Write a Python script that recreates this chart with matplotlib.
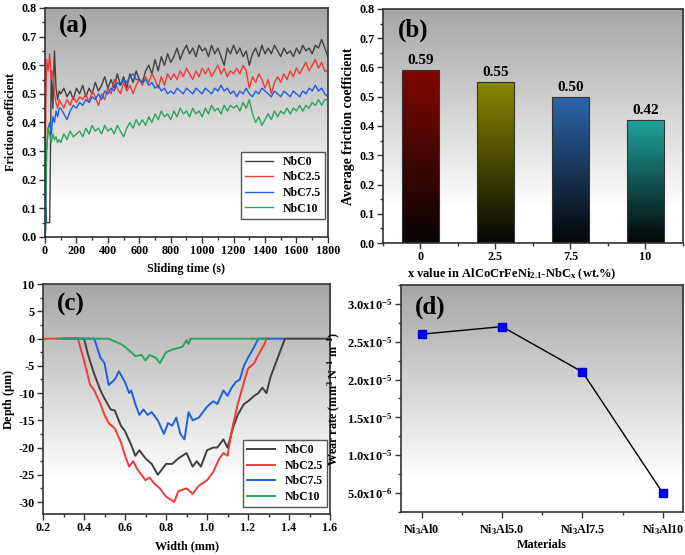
import numpy as np
import matplotlib
matplotlib.use("Agg")
import matplotlib.pyplot as plt
from matplotlib.colors import LinearSegmentedColormap
from matplotlib.ticker import MultipleLocator, AutoMinorLocator, FuncFormatter

plt.rcParams["font.family"] = ["Liberation Serif", "DejaVu Serif"]
plt.rcParams["font.weight"] = "bold"
plt.rcParams["axes.labelweight"] = "bold"
plt.rcParams["axes.unicode_minus"] = False
plt.rcParams["mathtext.fontset"] = "custom"
plt.rcParams["mathtext.rm"] = "Liberation Serif:bold"
plt.rcParams["mathtext.it"] = "Liberation Serif:bold"
plt.rcParams["mathtext.bf"] = "Liberation Serif:bold"
plt.rcParams["mathtext.default"] = "regular"

# ---------------- (a) friction coefficient vs sliding time ----------------
series_names = ["NbC0", "NbC2.5", "NbC7.5", "NbC10"]
series_colors = ["#404040", "#f23a3a", "#1f5fe0", "#2ea35c"]

time_head = [0, 5, 10, 20, 30, 40, 50, 60, 70, 80, 90]
time_body = list(range(100, 1801, 20))
time_s = time_head + time_body

mu_nbc0 = [0.00, 0.10, 0.05, 0.05, 0.05, 0.58, 0.45, 0.65, 0.52, 0.48, 0.51,
           0.50, 0.52, 0.49, 0.51, 0.48, 0.52,
           0.50, 0.53, 0.49, 0.52, 0.50, 0.54, 0.51, 0.53, 0.56, 0.52,
           0.55, 0.52, 0.57, 0.53, 0.56, 0.52, 0.57, 0.54, 0.58, 0.55,
           0.54, 0.58, 0.60, 0.57, 0.62, 0.58, 0.63, 0.60, 0.64, 0.61,
           0.63, 0.66, 0.62, 0.65, 0.67, 0.64, 0.66, 0.63, 0.67, 0.65,
           0.66, 0.63, 0.67, 0.64, 0.66, 0.63, 0.60, 0.66, 0.64, 0.67,
           0.64, 0.66, 0.63, 0.65, 0.60, 0.64, 0.66, 0.63, 0.67, 0.64,
           0.66, 0.64, 0.67, 0.65, 0.63, 0.66, 0.64, 0.65, 0.63, 0.66,
           0.64, 0.67, 0.65, 0.66, 0.64, 0.67, 0.66, 0.69, 0.66, 0.63]
mu_nbc25 = [0.00, 0.45, 0.62, 0.58, 0.64, 0.55, 0.58, 0.50, 0.47, 0.45, 0.48,
            0.47, 0.45, 0.48, 0.46, 0.49, 0.47,
            0.49, 0.48, 0.50, 0.47, 0.51, 0.49, 0.46, 0.50, 0.48, 0.52,
            0.50, 0.55, 0.52, 0.50, 0.54, 0.51, 0.53, 0.50, 0.53, 0.55,
            0.53, 0.56, 0.54, 0.57, 0.55, 0.52, 0.56, 0.53, 0.57, 0.55,
            0.57, 0.55, 0.58, 0.56, 0.59, 0.57, 0.55, 0.58, 0.56, 0.59,
            0.57, 0.59, 0.56, 0.58, 0.60, 0.57, 0.59, 0.56, 0.58, 0.57,
            0.59, 0.57, 0.60, 0.58, 0.52, 0.56, 0.54, 0.57, 0.55, 0.52,
            0.55, 0.50, 0.54, 0.56, 0.54, 0.57, 0.55, 0.58, 0.56, 0.59,
            0.57, 0.59, 0.61, 0.58, 0.60, 0.62, 0.59, 0.61, 0.58, 0.58]
mu_nbc75 = [0.00, 0.03, 0.30, 0.38, 0.40, 0.36, 0.42, 0.40, 0.44, 0.42, 0.45,
            0.45, 0.43, 0.41, 0.44, 0.46, 0.45,
            0.47, 0.46, 0.48, 0.47, 0.49, 0.48, 0.50, 0.48, 0.51, 0.50,
            0.52, 0.51, 0.54, 0.53, 0.55, 0.54, 0.56, 0.57, 0.55, 0.55,
            0.54, 0.55, 0.53, 0.54, 0.52, 0.53, 0.51, 0.52, 0.50, 0.51,
            0.50, 0.52, 0.51, 0.50, 0.52, 0.51, 0.50, 0.52, 0.51, 0.50,
            0.52, 0.51, 0.50, 0.52, 0.51, 0.53, 0.51, 0.52, 0.50, 0.51,
            0.49, 0.51, 0.50, 0.52, 0.50, 0.49, 0.51, 0.50, 0.52, 0.51,
            0.50, 0.49, 0.51, 0.50, 0.49, 0.51, 0.50, 0.49, 0.51, 0.50,
            0.49, 0.51, 0.50, 0.52, 0.51, 0.53, 0.51, 0.52, 0.50, 0.49]
mu_nbc10 = [0.00, 0.10, 0.30, 0.38, 0.36, 0.33, 0.36, 0.34, 0.35, 0.33, 0.34,
            0.33, 0.36, 0.34, 0.37, 0.35, 0.36,
            0.37, 0.35, 0.38, 0.36, 0.39, 0.37, 0.38, 0.36, 0.39, 0.37,
            0.38, 0.36, 0.39, 0.37, 0.35, 0.38, 0.40, 0.38, 0.41, 0.39,
            0.41, 0.39, 0.42, 0.40, 0.43, 0.41, 0.44, 0.42, 0.43, 0.41,
            0.44, 0.42, 0.45, 0.43, 0.44, 0.42, 0.45, 0.43, 0.44, 0.42,
            0.45, 0.43, 0.46, 0.44, 0.45, 0.43, 0.46, 0.44, 0.46, 0.45,
            0.46, 0.44, 0.47, 0.45, 0.48, 0.43, 0.40, 0.42, 0.39, 0.41,
            0.43, 0.41, 0.44, 0.42, 0.44, 0.43, 0.45, 0.43, 0.45, 0.44,
            0.46, 0.44, 0.46, 0.45, 0.47, 0.46, 0.48, 0.46, 0.48, 0.48]

# ---------------- (b) average friction coefficient ----------------
nbc_content = ["0", "2.5", "7.5", "10"]
avg_friction = [0.59, 0.55, 0.50, 0.42]
bar_colors = ["#820800", "#8a8a00", "#2d66ad", "#1fa39b"]

# ---------------- (c) wear track profiles ----------------
w_nbc0 = [0.30, 0.40, 0.42, 0.45, 0.48, 0.50, 0.53, 0.55, 0.58, 0.60, 0.63, 0.65, 0.67, 0.70,
          0.73, 0.76, 0.78, 0.80, 0.83, 0.86, 0.90, 0.93, 0.95, 0.97, 1.00, 1.03, 1.05, 1.08,
          1.10, 1.13, 1.15, 1.18, 1.20, 1.23, 1.25, 1.27, 1.29, 1.31, 1.33, 1.35, 1.37, 1.38, 1.60]
d_nbc0 = [0.0, 0.0, -3.0, -6.5, -9.5, -11.0, -13.0, -13.2, -16.0, -17.0, -19.5, -21.5, -20.5, -22.0,
          -23.0, -25.0, -24.0, -23.0, -23.0, -22.0, -21.0, -23.5, -22.5, -23.5, -20.5, -20.0, -20.0, -18.5,
          -20.0, -16.0, -14.0, -12.0, -11.5, -10.5, -10.0, -9.0, -10.0, -7.0, -5.0, -3.0, -1.0, 0.0, 0.0]

w_nbc25 = [0.20, 0.37, 0.40, 0.43, 0.45, 0.48, 0.50, 0.52, 0.55, 0.58, 0.60, 0.62, 0.64, 0.66,
           0.68, 0.70, 0.72, 0.74, 0.77, 0.80, 0.82, 0.84, 0.86, 0.90, 0.93, 0.96, 1.00, 1.03,
           1.06, 1.08, 1.10, 1.12, 1.15, 1.18, 1.20, 1.23, 1.25, 1.28, 1.29, 1.30]
d_nbc25 = [0.0, 0.0, -4.0, -8.5, -9.5, -12.0, -14.0, -15.5, -16.5, -19.0, -21.5, -23.5, -22.5, -24.0,
           -25.0, -26.0, -25.5, -26.5, -27.5, -29.0, -29.5, -30.0, -28.0, -27.5, -28.5, -27.0, -26.0, -24.5,
           -22.0, -21.0, -21.5, -17.0, -12.0, -8.0, -5.5, -4.5, -3.0, -1.0, 0.0, 0.0]

w_nbc75 = [0.30, 0.45, 0.48, 0.50, 0.52, 0.55, 0.57, 0.60, 0.62, 0.63, 0.65, 0.67, 0.69, 0.71,
           0.73, 0.76, 0.79, 0.81, 0.83, 0.85, 0.87, 0.89, 0.91, 0.93, 0.96, 1.00, 1.03, 1.05,
           1.08, 1.10, 1.12, 1.14, 1.16, 1.18, 1.20, 1.23, 1.25, 1.37]
d_nbc75 = [0.0, 0.0, -3.5, -4.5, -8.5, -7.5, -6.0, -8.0, -10.0, -9.5, -12.0, -14.0, -13.0, -14.0,
           -13.5, -15.0, -17.5, -15.5, -16.0, -14.5, -17.5, -18.5, -13.5, -15.0, -14.5, -12.5, -11.5, -12.0,
           -9.5, -10.5, -9.0, -8.0, -7.5, -5.0, -3.5, -1.5, 0.0, 0.0]

w_nbc10 = [0.27, 0.52, 0.55, 0.58, 0.60, 0.63, 0.65, 0.68, 0.70, 0.72, 0.75, 0.77, 0.80, 0.83,
           0.85, 0.88, 0.90, 0.91, 0.92, 1.29]
d_nbc10 = [0.0, 0.0, -0.5, -1.0, -1.5, -2.5, -3.2, -3.0, -4.0, -3.0, -3.5, -4.5, -2.5, -2.0,
           -1.8, -1.5, -0.3, -1.0, 0.0, 0.0]

# ---------------- (d) wear rate ----------------
materials = [r"Ni$_3$Al0", r"Ni$_3$Al5.0", r"Ni$_3$Al7.5", r"Ni$_3$Al10"]
wear_rate = [2.6e-5, 2.7e-5, 2.1e-5, 5.0e-6]

bg_cmap = LinearSegmentedColormap.from_list("bg", [(0, "white"), (0.15, "white"), (1, "#a6a6a6")])
grad = np.linspace(0, 1, 256).reshape(-1, 1)
TICK = 8.7
LABEL = 8.7
PANEL = 18


def style_axes(ax):
    ax.imshow(grad, extent=[0, 1, 0, 1], transform=ax.transAxes, origin="lower",
              aspect="auto", cmap=bg_cmap, zorder=0)
    for sp in ax.spines.values():
        sp.set_linewidth(1.2)
        sp.set_color("#333333")
    ax.tick_params(which="both", direction="out", labelsize=TICK, width=1.0, color="#333333", pad=2)
    ax.tick_params(which="major", length=4)
    ax.tick_params(which="minor", length=2)


fig = plt.figure(figsize=(6.85, 5.55), dpi=100)
ax_a = fig.add_axes([0.0657, 0.573, 0.413, 0.4126])
ax_b = fig.add_axes([0.559, 0.562, 0.438, 0.422])
ax_c = fig.add_axes([0.0628, 0.0739, 0.419, 0.414])
ax_d = fig.add_axes([0.585, 0.0775, 0.412, 0.409])

# (a)
style_axes(ax_a)
for name, col, mu in zip(series_names, series_colors,
                         [mu_nbc0, mu_nbc25, mu_nbc75, mu_nbc10]):
    ax_a.plot(time_s, mu, color=col, lw=1.0, label=name, zorder=2)
ax_a.set_xlim(0, 1800)
ax_a.set_ylim(0, 0.8)
ax_a.xaxis.set_major_locator(MultipleLocator(200))
ax_a.xaxis.set_minor_locator(MultipleLocator(100))
ax_a.yaxis.set_major_locator(MultipleLocator(0.1))
ax_a.yaxis.set_minor_locator(MultipleLocator(0.05))
ax_a.set_xlabel("Sliding time (s)", fontsize=LABEL, labelpad=4)
ax_a.set_ylabel("Friction coefficient", fontsize=LABEL, labelpad=3)
ax_a.text(0.05, 0.92, "(a)", transform=ax_a.transAxes, fontsize=PANEL, fontweight="bold", va="center")
ax_a.legend(loc="lower right", bbox_to_anchor=(0.99, 0.08), borderaxespad=0, fontsize=8.5,
            frameon=True, fancybox=False, edgecolor="#555555", framealpha=1, handlelength=2.4,
            labelspacing=0.3, borderpad=0.35)

# (b)
style_axes(ax_b)
xpos = np.arange(len(nbc_content))
bars = ax_b.bar(xpos, avg_friction, width=0.5, fill=False, edgecolor="#333333", lw=0.8, zorder=3)
for bar, col, val in zip(bars, bar_colors, avg_friction):
    x0, y0 = bar.get_x(), bar.get_y()
    cmap = LinearSegmentedColormap.from_list("b", ["#050505", col])
    im = ax_b.imshow(grad, extent=[x0, x0 + bar.get_width(), y0, y0 + bar.get_height()],
                     origin="lower", aspect="auto", cmap=cmap, zorder=2)
    im.set_clip_path(bar)
    ax_b.text(bar.get_x() + bar.get_width() / 2, val + 0.01, f"{val:.2f}",
              ha="center", va="bottom", fontsize=11, fontweight="bold")
ax_b.set_xlim(-0.5, 3.5)
ax_b.set_ylim(0, 0.8)
ax_b.set_xticks(xpos)
ax_b.set_xticklabels(nbc_content)
ax_b.xaxis.set_minor_locator(AutoMinorLocator(2))
ax_b.yaxis.set_major_locator(MultipleLocator(0.1))
ax_b.yaxis.set_minor_locator(MultipleLocator(0.05))
ax_b.set_xlabel(r"x value in AlCoCrFeNi$_{2.1}$-NbC$_x$ (wt.%)", fontsize=9)
ax_b.xaxis.set_label_coords(0.43, -0.1)
ax_b.set_ylabel("Average friction coefficient", fontsize=9.8, labelpad=3)
ax_b.text(0.05, 0.91, "(b)", transform=ax_b.transAxes, fontsize=PANEL, fontweight="bold", va="center")

# (c)
style_axes(ax_c)
profiles = [(w_nbc0, d_nbc0), (w_nbc25, d_nbc25), (w_nbc75, d_nbc75), (w_nbc10, d_nbc10)]
for name, col, (w, d) in zip(series_names, series_colors, profiles):
    ax_c.plot(w, d, color=col, lw=1.4, label=name, zorder=2)
ax_c.set_xlim(0.2, 1.6)
ax_c.set_ylim(-32.2, 10)
ax_c.xaxis.set_major_locator(MultipleLocator(0.2))
ax_c.xaxis.set_minor_locator(MultipleLocator(0.1))
ax_c.yaxis.set_major_locator(MultipleLocator(5))
ax_c.yaxis.set_minor_locator(MultipleLocator(2.5))
ax_c.xaxis.set_major_formatter(FuncFormatter(lambda v, p: f"{v:.1f}"))
ax_c.set_xlabel("Width (mm)", fontsize=LABEL, labelpad=4)
ax_c.set_ylabel(r"Depth ($\mu$m)", fontsize=LABEL, labelpad=1)
ax_c.text(0.05, 0.91, "(c)", transform=ax_c.transAxes, fontsize=PANEL, fontweight="bold", va="center")
ax_c.legend(loc="lower right", bbox_to_anchor=(0.99, 0.03), borderaxespad=0, fontsize=8.5,
            frameon=True, fancybox=False, edgecolor="#555555", framealpha=1, handlelength=2.4,
            labelspacing=0.3, borderpad=0.35)

# (d)
style_axes(ax_d)
mpos = np.arange(len(materials))
ax_d.plot(mpos, wear_rate, color="black", lw=1.0, marker="s", ms=5.5,
          markerfacecolor="#0000ff", markeredgecolor="#0000cc", zorder=3)
ax_d.set_xlim(-0.26, 3.25)
ax_d.set_ylim(2.5e-6, 3.25e-5)
ax_d.set_xticks(mpos)
ax_d.set_xticklabels(materials)
ax_d.xaxis.set_minor_locator(AutoMinorLocator(2))
ax_d.yaxis.set_major_locator(MultipleLocator(5e-6))
ax_d.yaxis.set_minor_locator(MultipleLocator(2.5e-6))
ax_d.tick_params(axis="x", which="major", pad=3)
ax_d.tick_params(axis="y", which="major", labelsize=9.0)


def sci_fmt(v, p):
    if v <= 0:
        return ""
    exp = int(np.floor(np.log10(v) + 1e-9))
    man = v / 10 ** exp
    return "%.1fx10$^{%d}$" % (man, exp)


ax_d.yaxis.set_major_formatter(FuncFormatter(sci_fmt))
ax_d.set_xlabel("Materials", fontsize=LABEL, labelpad=2)
ax_d.set_ylabel(r"Wear rate (mm$^3$ N$^{-1}$ m$^{-1}$)", fontsize=LABEL)
ax_d.yaxis.set_label_coords(-0.205, 0.5)
ax_d.text(0.05, 0.9, "(d)", transform=ax_d.transAxes, fontsize=PANEL, fontweight="bold", va="center")

fig.savefig("out.png", dpi=100)
